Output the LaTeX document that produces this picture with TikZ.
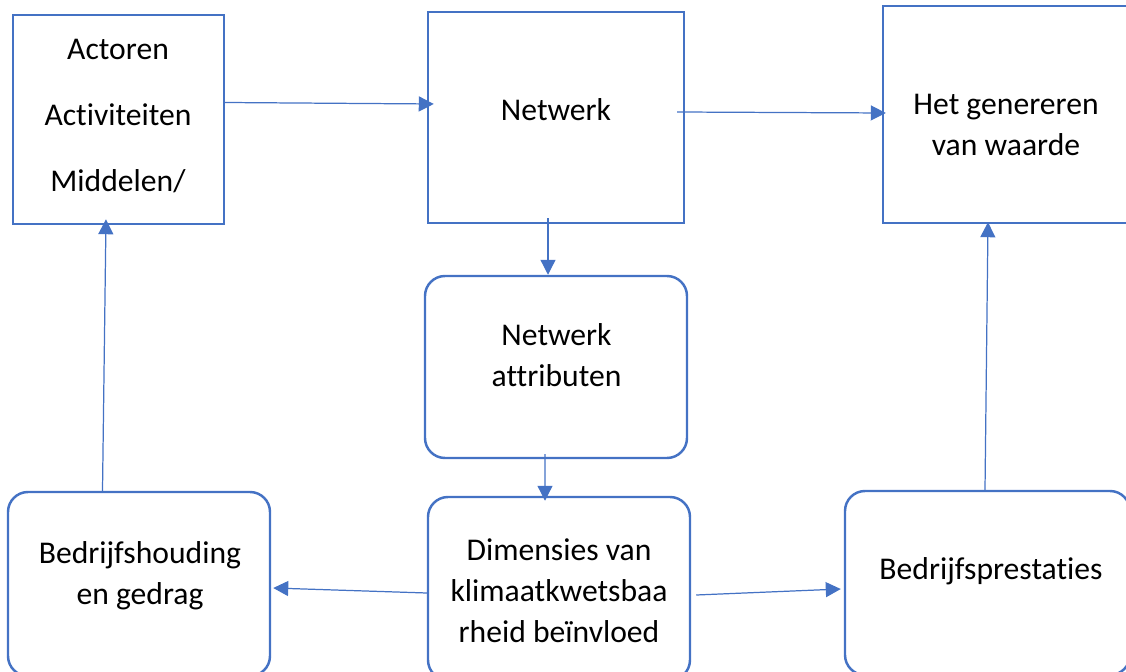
\documentclass[tikz,border=0pt]{standalone}
\usepackage{fontspec}
\setmainfont{Carlito}[RawFeature={-liga;-clig;-calt}]
\usetikzlibrary{arrows.meta}
\definecolor{kader}{HTML}{4472C4}

\begin{document}
\begin{tikzpicture}[font=\fontsize{18}{23.3}\selectfont,
  hoek/.style={draw=kader, line width=1.4pt, inner sep=0pt},
  rond/.style={hoek, rounded corners=0.4cm},
  tekst/.style={align=center, inner sep=0pt},
  pijl/.style={draw=kader, line width=0.7pt, -{Triangle[length=0.3cm,width=0.3cm]}}]
  \path[use as bounding box, clip] (0,0) rectangle (22.52,13.42);

  \node[hoek, minimum width=4.22cm, minimum height=4.18cm] (actoren) at (2.37,11.03) {};
  \node[hoek, minimum width=5.12cm, minimum height=4.22cm] (netwerk) at (11.12,11.07) {};
  \node[hoek, minimum width=5.04cm, minimum height=4.34cm] (waarde) at (20.18,11.13) {};
  \node[rond, minimum width=5.24cm, minimum height=3.64cm] (attributen) at (11.12,6.08) {};
  \node[rond, minimum width=5.24cm, minimum height=3.66cm] (dimensies) at (11.18,1.65) {};
  \node[rond, minimum width=5.24cm, minimum height=3.68cm] (houding) at (2.78,1.74) {};
  \node[rond, minimum width=5.70cm, minimum height=3.68cm] (prestaties) at (19.75,1.76) {};

  \node[tekst] (actorentekst) at (2.36,11.10) {Actoren\\[14pt]Activiteiten\\[14pt]Middelen/};
  \node[tekst] (netwerktekst) at (11.12,11.22) {Netwerk};
  \node[tekst] (waardetekst) at (20.12,10.92) {Het genereren\\van waarde};
  \node[tekst] (attributentekst) at (11.13,6.32) {Netwerk\\attributen};
  \node[tekst] (dimensiestekst) at (11.18,1.61) {Dimensies van\\klimaatkwetsbaa\\rheid beïnvloed};
  \node[tekst] (houdingtekst) at (2.80,1.90) {Bedrijfshouding\\en gedrag};
  \node[tekst] (prestatiestekst) at (19.82,2.00) {Bedrijfsprestaties};

  \draw[pijl] ([yshift=0.34cm]actoren.east) -- ([xshift=0.14cm,yshift=0.27cm]netwerk.west);
  \draw[pijl] ([xshift=-0.16cm,yshift=0.11cm]netwerk.east) -- ([xshift=0.08cm,yshift=0.03cm]waarde.west);
  \draw[pijl] ([xshift=-0.16cm,yshift=0.12cm]netwerk.south) -- ([xshift=-0.16cm]attributen.north);
  \draw[pijl] ([xshift=-0.22cm,yshift=0.1cm]attributen.south) -- ([xshift=-0.28cm,yshift=-0.1cm]dimensies.north);
  \draw[pijl] ([yshift=-0.09cm]dimensies.west) -- ([xshift=0.04cm,yshift=-0.08cm]houding.east);
  \draw[pijl] ([xshift=0.1cm,yshift=-0.13cm]dimensies.east) -- ([xshift=-0.06cm,yshift=-0.12cm]prestaties.west);
  \draw[pijl] ([xshift=-0.73cm]houding.north) -- ([xshift=-0.25cm,yshift=0.12cm]actoren.south);
  \draw[pijl] ([xshift=-0.05cm]prestaties.north) -- ([xshift=-0.42cm,yshift=0.04cm]waarde.south);
\end{tikzpicture}
\end{document}
